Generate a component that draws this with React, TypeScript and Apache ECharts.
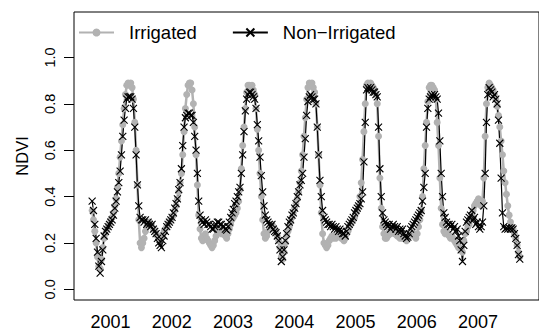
import React, { useEffect, useRef } from "react";
import * as echarts from "echarts";

// 8-day composites starting at this fractional year
const START_YEAR = 2000.702;
const STEPS_PER_YEAR = 46;

const yearLabels = [2001, 2002, 2003, 2004, 2005, 2006, 2007];
const yTickValues = [0, 0.2, 0.4, 0.6, 0.8, 1.0];

const irrigated = [
  0.34,0.30,0.25,0.20,0.14,0.10,0.09,0.13,0.18,0.22,
  0.24,0.26,0.27,0.28,0.30,0.31,0.33,0.36,0.39,0.44,
  0.50,0.57,0.64,0.71,0.78,0.84,0.88,0.89,0.88,0.89,
  0.87,0.82,0.72,0.60,0.45,0.30,0.20,0.18,0.20,0.22,
  0.25,0.27,0.28,0.29,0.28,0.27,0.26,0.25,0.24,0.23,
  0.22,0.21,0.22,0.23,0.25,0.26,0.27,0.28,0.29,0.30,
  0.31,0.32,0.34,0.36,0.39,0.42,0.46,0.50,0.58,0.68,
  0.78,0.84,0.88,0.89,0.89,0.86,0.80,0.70,0.58,0.45,
  0.32,0.26,0.22,0.21,0.23,0.24,0.22,0.21,0.20,0.19,
  0.18,0.19,0.21,0.23,0.25,0.26,0.25,0.24,0.24,0.25,
  0.23,0.22,0.24,0.26,0.28,0.30,0.31,0.32,0.33,0.35,
  0.38,0.43,0.52,0.62,0.70,0.78,0.85,0.88,0.88,0.87,
  0.88,0.86,0.84,0.78,0.69,0.60,0.50,0.40,0.30,0.24,
  0.22,0.23,0.25,0.26,0.27,0.28,0.27,0.26,0.25,0.23,
  0.21,0.18,0.14,0.13,0.16,0.20,0.23,0.25,0.27,0.29,
  0.31,0.33,0.35,0.37,0.39,0.42,0.46,0.51,0.58,0.66,
  0.74,0.82,0.87,0.89,0.88,0.89,0.87,0.85,0.80,0.70,
  0.58,0.45,0.33,0.24,0.20,0.19,0.18,0.19,0.21,0.22,
  0.23,0.22,0.23,0.22,0.23,0.24,0.23,0.22,0.22,0.21,
  0.22,0.24,0.25,0.27,0.28,0.29,0.30,0.31,0.33,0.34,
  0.36,0.40,0.46,0.56,0.68,0.80,0.88,0.89,0.88,0.89,
  0.88,0.87,0.86,0.84,0.80,0.66,0.48,0.35,0.27,0.24,
  0.22,0.22,0.23,0.25,0.24,0.26,0.25,0.24,0.25,0.23,
  0.24,0.22,0.23,0.22,0.23,0.22,0.21,0.22,0.23,0.24,
  0.25,0.24,0.23,0.22,0.24,0.27,0.30,0.34,0.40,0.52,
  0.62,0.72,0.81,0.87,0.88,0.88,0.87,0.86,0.82,0.72,
  0.62,0.48,0.35,0.28,0.25,0.24,0.25,0.24,0.23,0.22,
  0.23,0.22,0.21,0.20,0.19,0.18,0.18,0.17,0.16,0.21,
  0.24,0.25,0.27,0.28,0.30,0.32,0.34,0.36,0.37,0.38,
  0.39,0.38,0.36,0.38,0.48,0.66,0.80,0.87,0.89,0.88,
  0.87,0.86,0.84,0.82,0.79,0.75,0.70,0.64,0.58,0.51,
  0.46,0.41,0.36,0.32,0.29,0.27,0.26,0.24,0.22,0.19,
  0.16,0.14,
];

const nonIrrigated = [
  0.38,0.34,0.28,0.22,0.16,0.10,0.07,0.12,0.17,0.23,
  0.25,0.26,0.27,0.28,0.29,0.30,0.32,0.35,0.38,0.42,
  0.46,0.51,0.58,0.66,0.73,0.78,0.82,0.83,0.83,0.83,
  0.82,0.78,0.70,0.58,0.45,0.36,0.31,0.30,0.30,0.29,
  0.30,0.28,0.29,0.28,0.27,0.28,0.26,0.25,0.24,0.22,
  0.20,0.19,0.18,0.21,0.23,0.25,0.27,0.28,0.29,0.30,
  0.31,0.33,0.35,0.37,0.39,0.43,0.46,0.52,0.62,0.70,
  0.74,0.75,0.76,0.76,0.75,0.75,0.72,0.66,0.60,0.50,
  0.38,0.32,0.30,0.29,0.28,0.30,0.29,0.28,0.28,0.27,
  0.26,0.26,0.27,0.28,0.29,0.29,0.28,0.28,0.27,0.27,
  0.26,0.255,0.27,0.29,0.31,0.33,0.345,0.37,0.38,0.40,
  0.42,0.44,0.50,0.58,0.68,0.77,0.82,0.84,0.85,0.85,
  0.84,0.83,0.82,0.78,0.71,0.64,0.57,0.49,0.42,0.36,
  0.32,0.30,0.29,0.28,0.27,0.28,0.26,0.25,0.245,0.23,
  0.21,0.17,0.12,0.14,0.17,0.21,0.24,0.27,0.29,0.30,
  0.32,0.33,0.35,0.37,0.40,0.42,0.45,0.47,0.50,0.57,
  0.65,0.75,0.81,0.83,0.84,0.83,0.82,0.82,0.80,0.70,
  0.58,0.47,0.40,0.34,0.31,0.30,0.29,0.28,0.28,0.27,
  0.28,0.27,0.26,0.27,0.26,0.25,0.26,0.25,0.24,0.24,
  0.23,0.25,0.27,0.28,0.29,0.30,0.31,0.33,0.34,0.35,
  0.36,0.37,0.39,0.42,0.55,0.72,0.86,0.87,0.86,0.87,
  0.86,0.85,0.85,0.84,0.83,0.70,0.52,0.40,0.33,0.30,
  0.29,0.28,0.27,0.28,0.26,0.27,0.28,0.27,0.26,0.27,
  0.25,0.26,0.25,0.26,0.24,0.23,0.22,0.225,0.24,0.26,
  0.27,0.28,0.29,0.30,0.31,0.32,0.33,0.34,0.38,0.44,
  0.50,0.70,0.78,0.82,0.83,0.84,0.83,0.84,0.83,0.82,
  0.76,0.64,0.50,0.40,0.33,0.31,0.29,0.28,0.28,0.27,
  0.28,0.26,0.27,0.25,0.26,0.23,0.21,0.17,0.12,0.19,
  0.25,0.29,0.30,0.31,0.32,0.34,0.30,0.31,0.28,0.29,
  0.27,0.26,0.27,0.29,0.36,0.50,0.72,0.84,0.87,0.86,
  0.85,0.83,0.84,0.82,0.80,0.73,0.63,0.48,0.33,0.27,
  0.26,0.265,0.26,0.265,0.26,0.265,0.26,0.24,0.22,0.19,
  0.15,0.13,
];

const FONT = "'Liberation Sans', Arial, Helvetica, sans-serif";
const GRAY = "#b2b2b2";

function toPairs(values: number[]) {
  return values.map((v, i) => [START_YEAR + i / STEPS_PER_YEAR, v]);
}

export default function App() {
  const ref = useRef<HTMLDivElement>(null);

  useEffect(() => {
    if (!ref.current) return;
    const chart = echarts.init(ref.current, undefined, { renderer: "svg" });
    chart.setOption({
      animation: false,
      textStyle: { fontFamily: FONT, color: "#000" },
      grid: {
        left: 74,
        top: 12,
        width: 469,
        height: 292,
        show: true,
        borderColor: "#000",
        borderWidth: 1,
        backgroundColor: "transparent",
      },
      legend: {
        left: 78,
        top: 23,
        padding: 0,
        itemWidth: 35,
        itemHeight: 10,
        itemGap: 35,
        textStyle: { fontSize: 18.5, color: "#000", fontFamily: FONT, padding: [0, 0, 0, 10] },
        data: ["Irrigated", "Non\u2212Irrigated"],
      },
      xAxis: {
        type: "value",
        min: 2000.406,
        max: 2007.994,
        axisLine: { show: false },
        axisTick: { show: false },
        splitLine: { show: false },
        axisLabel: {
          customValues: yearLabels,
          formatter: (v: number) => String(Math.round(v)),
          fontSize: 18,
          color: "#000",
          margin: 13,
          fontFamily: FONT,
        },
      },
      yAxis: {
        type: "value",
        min: -0.046,
        max: 1.196,
        name: "NDVI",
        nameLocation: "middle",
        nameRotate: 90,
        nameGap: 44,
        nameTextStyle: { fontSize: 16.5, color: "#000", fontFamily: FONT },
        axisLine: { show: false },
        splitLine: { show: false },
        axisTick: {
          show: true,
          customValues: yTickValues,
          length: 10,
          lineStyle: { color: "#000", width: 1 },
        },
        axisLabel: {
          customValues: yTickValues,
          rotate: 90,
          formatter: (v: number) => v.toFixed(1),
          fontSize: 14.5,
          color: "#000",
          margin: 17,
          fontFamily: FONT,
        },
      },
      series: [
        {
          name: "Irrigated",
          type: "line",
          data: toPairs(irrigated),
          symbol: "circle",
          symbolSize: 7,
          showAllSymbol: true,
          itemStyle: { color: GRAY },
          lineStyle: { color: GRAY, width: 2.5 },
        },
        {
          name: "Non\u2212Irrigated",
          type: "line",
          data: toPairs(nonIrrigated),
          symbol: "path://M0,0L10,10M10,0L0,10",
          symbolSize: 7,
          showAllSymbol: true,
          itemStyle: { color: "#000", borderColor: "#000", borderWidth: 1.1 },
          lineStyle: { color: "#000", width: 1.2 },
        },
      ],
    });
    return () => chart.dispose();
  }, []);

  return (
    <div
      ref={ref}
      style={{ position: "absolute", left: 0, top: 0, width: 539, height: 331 }}
    />
  );
}
